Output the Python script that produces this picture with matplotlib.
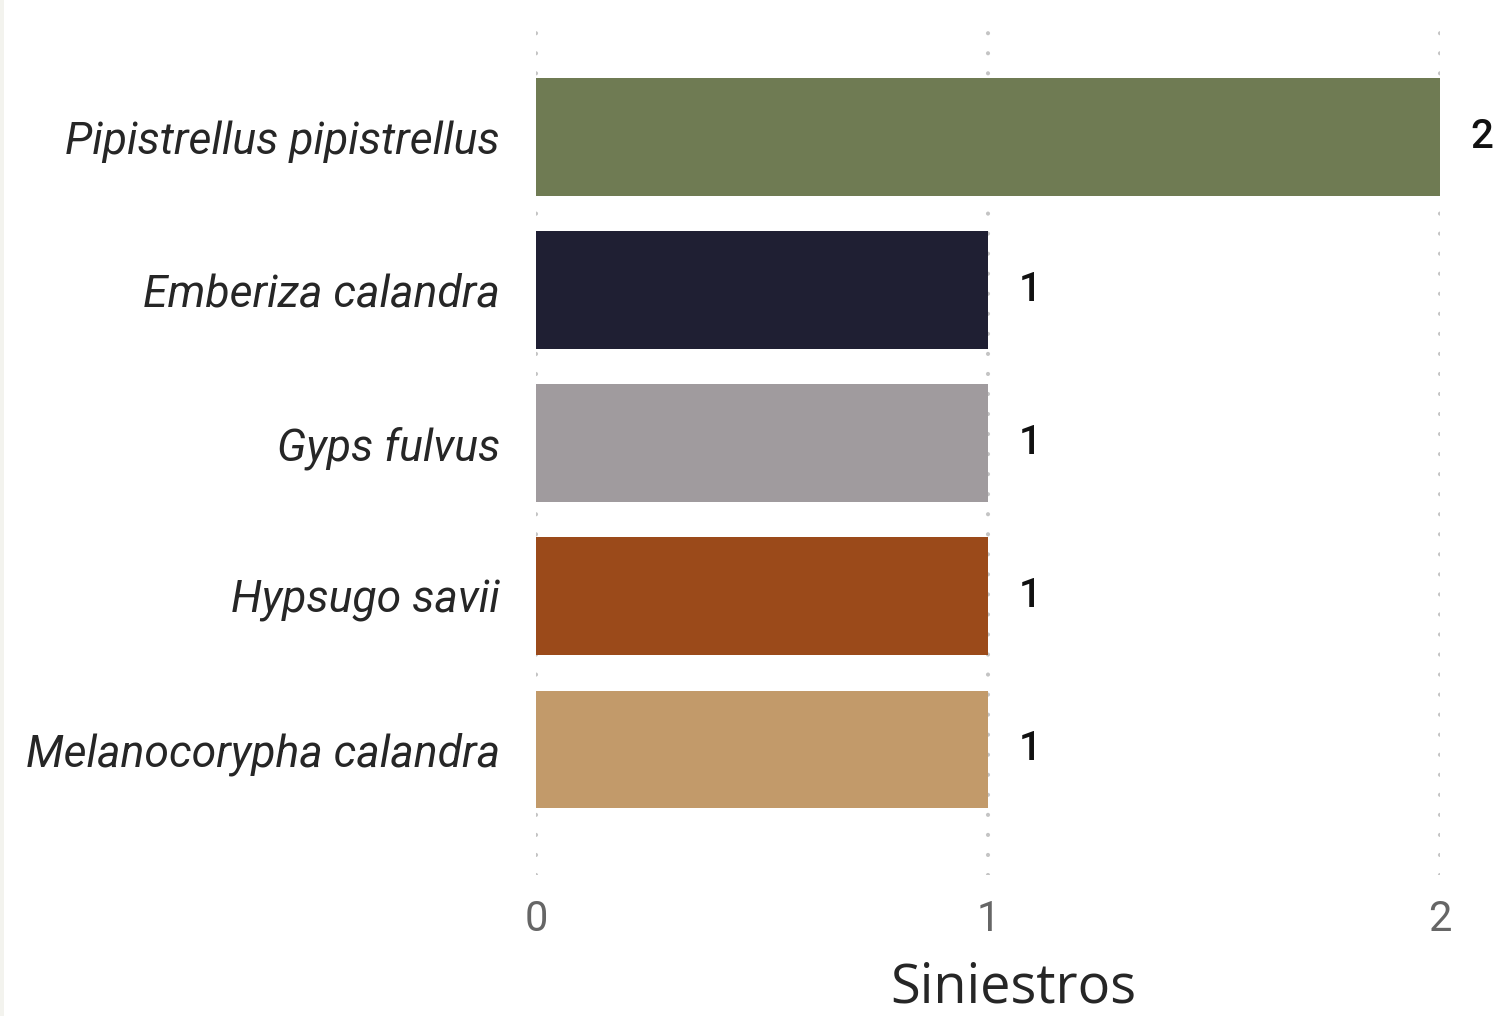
#--------------------------------------------------
# 種ごとの件数 (Siniestros) を横棒グラフで描く
#--------------------------------------------------
import matplotlib
matplotlib.use("Agg")
import matplotlib.pyplot as plt
from matplotlib.patches import Rectangle

# データ
species = ['Pipistrellus pipistrellus', 'Emberiza calandra', 'Gyps fulvus',
           'Hypsugo savii', 'Melanocorypha calandra']
siniestros = [2, 1, 1, 1, 1]
bar_colors = ['#6f7b53', '#1f1f33', '#a09b9e', '#9b4a1a', '#c29a6a']
x_ticks = [0, 1, 2]

#--------------------------------------------------
# グラフを描画
#--------------------------------------------------
fig = plt.figure(figsize=(15.01, 10.16), dpi=100)
ax = fig.add_axes([536 / 1501, 1 - 875 / 1016, 904 / 1501, 845 / 1016])

# 左端の薄い帯
fig.patches.append(Rectangle((0, 0), 4 / 1501, 1, transform=fig.transFigure,
                             facecolor='#f3f3ee', edgecolor='none', zorder=0))

y_pos = list(range(len(species)))
bars = ax.barh(y_pos, siniestros, height=0.77, color=bar_colors, zorder=2)

# データラベル
for yy, v in zip(y_pos, siniestros):
    ax.annotate(str(v), xy=(v, yy), xytext=(22, 0), textcoords='offset points',
                ha='left', va='center', fontsize=29, color='#111111',
                family='Roboto', weight='medium')

ax.set_xlim(0, 2)
ax.set_ylim(4.82, -0.70)
ax.set_xticks(x_ticks)
ax.set_xticklabels([str(t) for t in x_ticks], family='Roboto', fontsize=30,
                   color='#666666')
ax.set_yticks(y_pos)
ax.set_yticklabels(species, family='Roboto', style='italic', fontsize=32,
                   color='#262626')
ax.tick_params(axis='x', length=0, pad=17)
ax.tick_params(axis='y', length=0, pad=26)

# 点線グリッド
ax.set_axisbelow(True)
ax.xaxis.grid(True, color='#c4c4c4', linewidth=3, linestyle=(0, (0.01, 4.8)))
for gl in ax.get_xgridlines():
    gl.set_dash_capstyle('round')
ax.yaxis.grid(False)
for s in ax.spines.values():
    s.set_visible(False)

ax.set_xlabel('Siniestros', family='Open Sans', fontsize=39, color='#262626')
ax.xaxis.set_label_coords((1013 - 536) / 904, -(988 - 875) / 845)
ax.xaxis.label.set_va('center')

fig.savefig('out.png', dpi=100)
